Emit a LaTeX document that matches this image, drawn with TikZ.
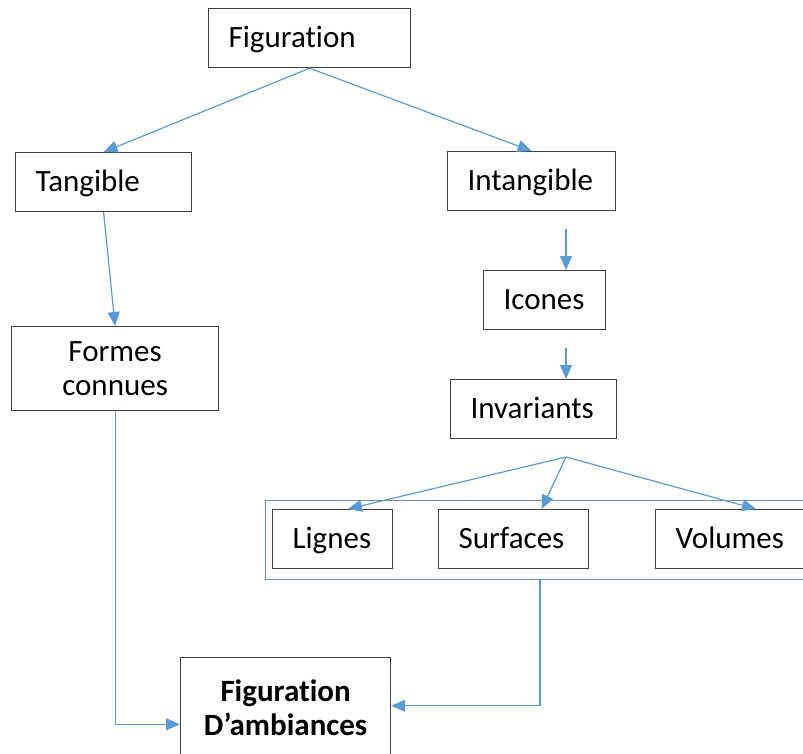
\documentclass[tikz,border=0pt]{standalone}
\usepackage{fontspec}
\setmainfont[Ligatures=NoCommon]{Carlito}
\usetikzlibrary{arrows.meta}
\definecolor{arrowblue}{HTML}{5B9BD5}
\definecolor{groupblue}{HTML}{6A8FBF}
\definecolor{boxgray}{HTML}{404040}
\begin{document}
\begin{tikzpicture}
[x=1pt,y=-1pt,%
  box/.style={draw=boxgray,line width=1.2pt,anchor=north west,inner xsep=20pt,inner ysep=0pt,minimum height=59pt,align=left,text height=24pt,text depth=6pt},%
  twoline/.style={box,align=center,text height=,text depth=},%
  link/.style={draw=arrowblue,line width=1.2pt,-{Triangle[length=14pt,width=12pt]}}]
\fontsize{31pt}{34pt}\selectfont
\clip (0,0) rectangle (803,753);
\node[box,text width=162pt] (fig) at (208,8) {Figuration};
\node[box,text width=136pt] (tang) at (15,152) {Tangible};
\node[box,text width=128pt] (intang) at (447,151) {Intangible};
\node[twoline,text width=167pt,minimum height=84pt] (formes) at (11,326) {Formes\\connues};
\node[box,text width=82pt] (icones) at (483,270) {Icones};
\node[box,text width=126pt] (invar) at (450,379) {Invariants};
\node[draw=groupblue,line width=1.2pt,anchor=north west,minimum width=565pt,minimum height=79pt,inner sep=0pt] (grp) at (265,500) {};
\node[box,text width=80pt] (lignes) at (272,509) {Lignes};
\node[box,text width=110pt] (surf) at (438,509) {Surfaces};
\node[box,text width=130pt] (vol) at (655,509) {Volumes};
\node[twoline,text width=170pt,minimum height=100pt,font=\bfseries] (amb) at (180,657) {Figuration\\D’ambiances};
% links
\draw[link] (fig.south) -- (tang.north);
\draw[link] (fig.south) -- (intang.north);
\draw[link] (tang.south) -- (formes.north);
\coordinate (s1) at (566,229);
\draw[link] (s1) -- (s1 |- icones.north);
\coordinate (s2) at (566,348);
\draw[link] (s2) -- (s2 |- invar.north);
\coordinate (split) at (566,457);
\draw[link] (split) -- (lignes.63);
\draw[link] (split) -- (surf.47);
\draw[link] (split) -- (vol.63);
\draw[link] (formes.south) |- (amb.189);
\coordinate (gout) at (540,579);
\draw[link] (gout) |- (amb.1);
\end{tikzpicture}
\end{document}
